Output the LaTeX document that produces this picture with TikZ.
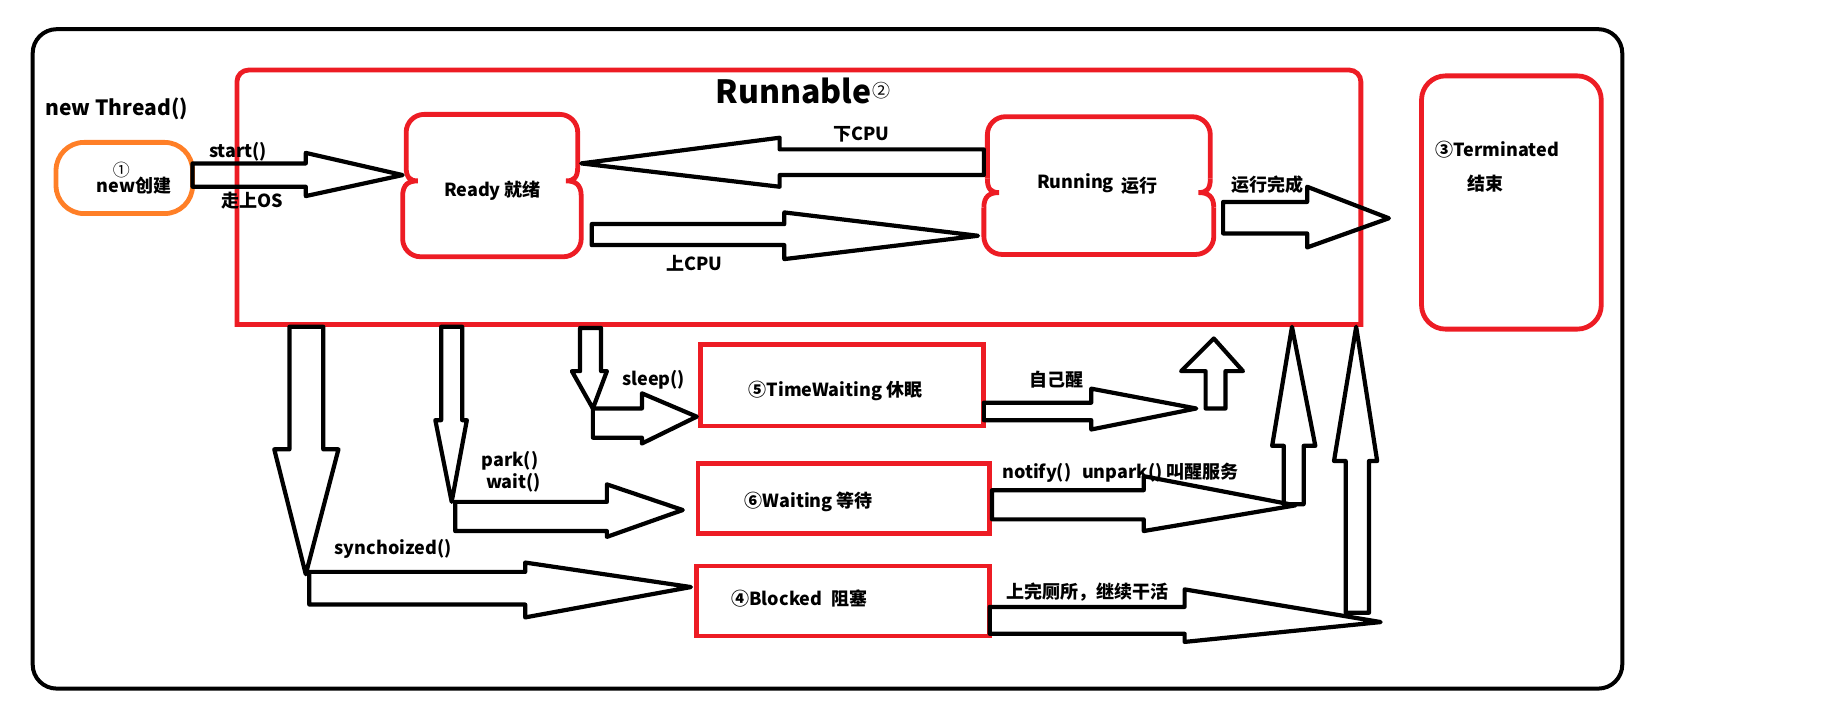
\documentclass[tikz,border=0pt]{standalone}
\usepackage{fontspec}
\setmainfont{Noto Sans CJK SC}
\definecolor{pred}{HTML}{ED1C24}
\definecolor{porange}{HTML}{FF7F27}
\tikzset{
  barrow/.style={draw=black, line width=2.1pt, line join=round},
  redline/.style={draw=pred, line width=2.4pt},
  lbl/.style={font=\bfseries\fontsize{9}{10}\selectfont, inner sep=0pt},
}
\newcommand\rarrow[8]{\draw[barrow] (#1,#2) -- (#4,#2) -- (#4,#5) -- (#7,#8) -- (#4,#6) -- (#4,#3) -- (#1,#3) -- cycle;}
\newcommand\varrow[8]{\draw[barrow] (#2,#1) -- (#2,#4) -- (#5,#4) -- (#7,#8) -- (#6,#4) -- (#3,#4) -- (#3,#1) -- cycle;}
\newcommand\bracebox[5]{% x1 y1 x2 y2 notch-y
  \draw[redline, rounded corners=9] (#1+3,#5-12) -- (#1+3,#2) -- (#3-3,#2) -- (#3-3,#5-12);
  \draw[redline] (#3-3,#5-12) .. controls (#3-3,#5-3) and (#3-6,#5) .. (#3-13,#5)
     .. controls (#3-5,#5) and (#3,#5+3) .. (#3,#5+13);
  \draw[redline, rounded corners=9] (#3,#5+13) -- (#3,#4) -- (#1,#4) -- (#1,#5+13);
  \draw[redline] (#1,#5+13) .. controls (#1,#5+3) and (#1+5,#5) .. (#1+13,#5)
     .. controls (#1+6,#5) and (#1+3,#5-3) .. (#1+3,#5-12);
}
\begin{document}
\begin{tikzpicture}[x=0.5835pt, y=-0.5835pt]
\useasboundingbox (0,0) rectangle (1568,621);
% outer frame
\draw[line width=2pt, rounded corners=12] (28,25) rectangle (1390,590);
% Runnable frame
\draw[redline] (203,278) -- (203,70) arc[start angle=180, end angle=270, radius=10] -- (1156,60) arc[start angle=-90, end angle=0, radius=10] -- (1166,278) -- cycle;
\node[font=\bfseries\fontsize{16}{18}\selectfont, inner sep=0pt] (runnable) at (680,78) {Runnable};
\node[font=\fontsize{9}{10}\selectfont, inner sep=0pt, anchor=west] (two) at (runnable.east) {②};
% new box
\draw[draw=porange, line width=2.4pt, rounded corners=14] (48,122) rectangle (165,183);
\node[font=\bfseries\fontsize{10.5}{12}\selectfont, inner sep=0pt] (newthread) at (100,93) {new Thread()};
\node[font=\fontsize{8.5}{9}\selectfont, inner sep=0pt] (one) at (104,146) {①};
\node[lbl] (newc) at (115,159) {new创建};
% Ready and Running
\bracebox{345}{98}{498}{220}{155}
\node[lbl] (ready) at (422,163) {Ready 就绪};
\bracebox{843}{100}{1040}{218}{165}
\node[lbl] (running) at (940,158) {Running\hspace{0.4em}\raisebox{-2pt}{运行}};
% Terminated
\draw[redline, rounded corners=12] (1218,65) rectangle (1372,282);
\node[lbl] (term) at (1283,128) {③Terminated};
\node[lbl] (termc) at (1273,157) {结束};
% lower boxes
\draw[redline] (600,295) rectangle (843,365);
\node[lbl] (tw) at (716,335) {⑤TimeWaiting 休眠};
\draw[redline] (598,397) rectangle (848,457);
\node[lbl] (wt) at (693,430) {⑥Waiting 等待};
\draw[redline] (597,485) rectangle (848,545);
\node[lbl] (bl) at (685,513) {④Blocked\hspace{0.5em}阻塞};
% arrows
\rarrow{165}{140}{160}{262}{131}{168}{345}{150}
\rarrow{843}{128}{150}{668}{118}{160}{498}{140}
\rarrow{507}{192}{210}{672}{182}{222}{838}{202}
\rarrow{1048}{173}{200}{1120}{160}{212}{1190}{187}
\varrow{280}{248}{277}{385}{235}{290}{262}{492}
\rarrow{265}{490}{518}{450}{482}{529}{592}{503}
\varrow{280}{378}{396}{360}{373}{400}{387}{430}
\rarrow{390}{430}{455}{520}{415}{460}{585}{437}
\varrow{281}{497}{515}{318}{490}{520}{508}{350}
\rarrow{508}{350}{375}{550}{337}{380}{597}{357}
\rarrow{843}{345}{360}{935}{333}{368}{1025}{350}
\varrow{350}{1033}{1050}{318}{1012}{1065}{1040}{290}
\rarrow{850}{420}{445}{980}{408}{455}{1110}{433}
\varrow{432}{1100}{1117}{382}{1090}{1127}{1107}{280}
\rarrow{848}{520}{543}{1015}{505}{550}{1183}{533}
\varrow{525}{1153}{1173}{395}{1143}{1180}{1162}{280}
% labels
\node[lbl] (start) at (204,130) {start()};
\node[lbl] (zou) at (216,172) {走上OS};
\node[lbl] (xia) at (738,115) {下CPU};
\node[lbl] (shang) at (595,226) {上CPU};
\node[lbl] (wc) at (1086,158) {运行完成};
\node[lbl] (sleep) at (560,325) {sleep()};
\node[lbl] (park) at (437,395) {park()};
\node[lbl] (wait) at (440,414) {wait()};
\node[lbl] (sync) at (337,470) {synchoized()};
\node[lbl] (zjx) at (905,325) {自己醒};
\node[lbl] (notify) at (960,405) {notify()\hspace{0.6em}unpark() 叫醒服务};
\node[lbl] (wcs) at (932,507) {上完厕所，继续干活};
\end{tikzpicture}
\end{document}
